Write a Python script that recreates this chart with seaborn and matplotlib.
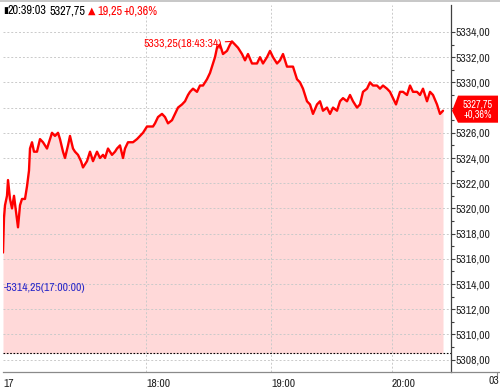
import matplotlib
matplotlib.use("Agg")
import matplotlib.pyplot as plt
import matplotlib.transforms as mtransforms
from matplotlib.patches import Polygon, Rectangle
from matplotlib.lines import Line2D
from matplotlib.ticker import FixedLocator
import seaborn as sns
import pandas as pd

# ---- data (bar index along the tick-based time axis, price) ----
bar_idx = [0, 1, 2, 4, 5, 7, 9, 11, 13, 15, 17, 19, 22, 24, 26, 27, 29, 31, 34, 37,
           40, 44, 47, 49, 52, 55, 57, 60, 62, 65, 67, 70, 72, 75, 78, 80, 84, 87, 90, 94,
           97, 100, 102, 105, 109, 112, 114, 117, 120, 122, 125, 128, 130, 134, 137, 140, 144, 147, 150, 152,
           155, 159, 162, 165, 169, 172, 175, 179, 182, 185, 187, 190, 194, 197, 200, 204, 207, 210, 212, 214,
           217, 220, 224, 227, 229, 232, 235, 239, 242, 245, 249, 254, 257, 260, 264, 267, 270, 274, 277, 280,
           284, 287, 290, 294, 297, 300, 304, 307, 310, 314, 317, 320, 324, 327, 330, 334, 337, 340, 344, 347,
           350, 354, 357, 360, 364, 367, 370, 374, 377, 380, 384, 387, 390, 393, 397, 400, 404, 407, 410, 414,
           417, 420, 424, 427, 430, 434, 437, 440]
price = [5316.50, 5319.25, 5320.25, 5321.00, 5322.25, 5320.75, 5320.00, 5321.00, 5319.75, 5318.50,
         5320.25, 5320.75, 5320.75, 5321.75, 5323.00, 5324.75, 5325.25, 5324.50, 5324.50, 5325.50,
         5325.25, 5324.75, 5325.50, 5326.00, 5325.75, 5326.00, 5325.50, 5324.50, 5324.00, 5325.00,
         5325.75, 5324.75, 5324.50, 5324.25, 5323.75, 5323.25, 5323.75, 5324.50, 5323.75, 5324.50,
         5324.00, 5324.25, 5324.00, 5324.75, 5324.25, 5324.50, 5324.75, 5325.00, 5324.00, 5324.75,
         5325.25, 5325.25, 5325.25, 5325.50, 5325.75, 5326.00, 5326.50, 5326.50, 5326.50, 5326.75,
         5327.25, 5327.50, 5327.25, 5326.75, 5327.00, 5327.50, 5328.00, 5328.25, 5328.50, 5329.00,
         5329.25, 5329.50, 5329.25, 5329.75, 5329.75, 5330.25, 5330.75, 5331.50, 5332.00, 5332.75,
         5333.00, 5332.25, 5332.50, 5333.00, 5333.25, 5333.00, 5332.75, 5332.25, 5331.75, 5332.25,
         5331.50, 5331.50, 5332.00, 5331.50, 5332.00, 5332.50, 5332.00, 5331.50, 5331.75, 5332.25,
         5331.25, 5331.25, 5331.25, 5330.25, 5330.00, 5329.50, 5328.50, 5328.25, 5327.50, 5328.25,
         5328.50, 5327.75, 5328.00, 5327.50, 5328.00, 5327.75, 5328.50, 5328.75, 5328.50, 5329.00,
         5328.50, 5328.00, 5328.25, 5329.25, 5329.50, 5330.00, 5329.75, 5329.75, 5329.50, 5329.75,
         5329.50, 5329.25, 5328.75, 5328.25, 5329.25, 5329.25, 5329.00, 5329.75, 5329.25, 5329.25,
         5329.00, 5329.50, 5328.50, 5329.25, 5329.00, 5328.25, 5327.50, 5327.75]

prev_close = 5308.50
high_val, high_idx, high_time = 5333.25, 229, "18:43:34"
low_val, low_time = 5314.25, "17:00:00"
last_time, last_val, change, change_pct = "20:39:03", 5327.75, 19.25, 0.36

x_tick_pos = [0, 143, 268, 389]
x_tick_labels = ["17", "18:00", "19:00", "20:00"]
end_label = "03"
y_ticks = list(range(5308, 5335, 2))
hidden_y_label = 5328  # covered by the current-price box


def kfmt(v):
    return f"{v:.2f}".replace(".", ",")


sns.set_theme(style="white")
FONT = ["Archivo Narrow", "DejaVu Sans"]
plt.rcParams["font.family"] = FONT

fig = plt.figure(figsize=(5.0, 3.88), dpi=100)
W, H = 500, 388
ax = fig.add_axes([3 / W, (H - 372) / H, 448 / W, 367 / H])

df = pd.DataFrame({"idx": bar_idx, "price": price})
ax.fill_between(df["idx"], df["price"], prev_close, color="#FFD9D9", lw=0, zorder=1)
sns.lineplot(data=df, x="idx", y="price", ax=ax, color="#FF0000", lw=1.7, zorder=3)
ax.axhline(prev_close, color="black", lw=0.8, ls=(0, (1.5, 1.5)), zorder=2)

ax.set_xlim(0, 448)
ax.set_ylim(5307.02, 5336.14)
ax.set_xlabel("")
ax.set_ylabel("")

# grid
ax.set_axisbelow("line")
ax.yaxis.set_major_locator(FixedLocator(y_ticks))
ax.yaxis.set_minor_locator(FixedLocator([v + 1 for v in y_ticks[:-1]]))
ax.xaxis.set_major_locator(FixedLocator(x_tick_pos))
ax.grid(True, which="major", axis="y", color="#CACACA", lw=0.7, ls=(0, (2, 2)))
for xp in x_tick_pos[1:]:
    ax.axvline(xp, color="#CACACA", lw=0.7, ls=(0, (2, 2)), zorder=1.5)

# spines
for s in ["top", "left"]:
    ax.spines[s].set_visible(False)
ax.spines["right"].set_color("#404040")
ax.spines["right"].set_linewidth(0.9)
ax.spines["bottom"].set_color("#8A8A8A")
ax.spines["bottom"].set_linewidth(0.9)

ax.yaxis.tick_right()
ax.tick_params(axis="y", which="major", length=3, width=0.8, color="#404040",
               pad=0.5, labelsize=8.4, labelcolor="#222222")
ax.tick_params(axis="y", which="minor", length=2, width=0.8, color="#404040", right=True, left=False)
ax.set_yticklabels(["" if v == hidden_y_label else kfmt(v) for v in y_ticks])
ax.tick_params(axis="x", which="major", length=4, width=0.8, color="#8A8A8A", direction="out",
               pad=1, labelsize=8.4, labelcolor="#222222")
ax.set_xticklabels(x_tick_labels)
for lab in ax.get_xticklabels():
    lab.set_horizontalalignment("left")

# extension of bottom axis line to the right edge and end label
fig.add_artist(Line2D([451 / W, 1.0], [(H - 372) / H] * 2, color="#8A8A8A", lw=0.9,
                      transform=fig.transFigure))
fig.add_artist(Line2D([497 / W] * 2, [(H - 372) / H, (H - 376) / H], color="#8A8A8A", lw=0.8,
                      transform=fig.transFigure))
fig.text(499 / W, (H - 381) / H, end_label, ha="right", va="center", fontsize=8.4,
         color="#222222", family=FONT)

# top gray band
fig.add_artist(Rectangle((0, (H - 2) / H), 1, 2 / H, transform=fig.transFigure,
                         color="#C8C8C8", lw=0))

# header
hy = (H - 11) / H
fig.text(3 / W, hy, "▮", ha="left", va="center", fontsize=6.5, color="black", family=FONT)
fig.text(8 / W, hy, last_time, ha="left", va="center", fontsize=8.8, color="black", family=FONT)
fig.text(50 / W, hy, kfmt(last_val), ha="left", va="center", fontsize=8.8, color="black", family=FONT)
fig.text(88 / W, hy, "▲", ha="left", va="center", fontsize=7, color="#FF0000", family=FONT)
fig.text(97 / W, hy, kfmt(change), ha="left", va="center", fontsize=8.8, color="#FF0000", family=FONT)
fig.text(123 / W, hy, "+" + kfmt(change_pct) + "%", ha="left", va="center", fontsize=8.8,
         color="#FF0000", family=FONT)

# high / low annotations
ax.annotate(f"{kfmt(high_val)}({high_time})", xy=(high_idx, high_val), xytext=(219, 5333.05),
            ha="right", va="center", fontsize=8.4, color="#FF0000",
            arrowprops=dict(arrowstyle="-", color="#FF0000", lw=0.8, shrinkA=0, shrinkB=0))
ax.text(0.5, 5313.7, f"-{kfmt(low_val)}({low_time})", ha="left", va="center", fontsize=8.4,
        color="#2424C8")

# current price box on the right axis
blend = mtransforms.blended_transform_factory(fig.transFigure, ax.transData)
top_v, bot_v = 5328.95, 5326.8
poly = Polygon([(458 / W, top_v), (498 / W, top_v), (498 / W, bot_v), (458 / W, bot_v),
                (452 / W, last_val)], closed=True, transform=blend, color="#FF0000",
               lw=0, clip_on=False, zorder=5)
fig.add_artist(poly)
fig.text(478 / W, (H - 109.5) / H, kfmt(last_val) + "\n+" + kfmt(change_pct) + "%",
         ha="center", va="center", fontsize=7.4, linespacing=1.05,
         color="white", family=FONT, zorder=6)

fig.savefig("out.png", dpi=100)
